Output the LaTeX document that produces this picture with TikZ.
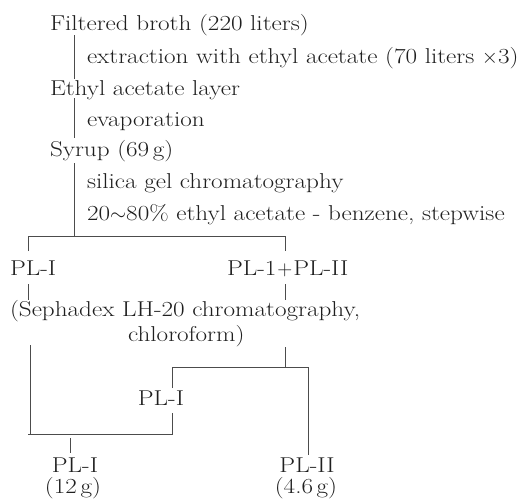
\documentclass[tikz,border=0pt]{standalone}
\usepackage{fontspec}
\setmainfont{Latin Modern Roman}[FakeStretch=1.17]
\begin{document}
\begin{tikzpicture}[x=1pt,y=-1pt,
  lbl/.style={anchor=base west,inner sep=0pt,outer sep=0pt,text=black!88,font=\fontsize{21.5}{24}\selectfont},
  clbl/.style={anchor=base,inner sep=0pt,outer sep=0pt,text=black!88,font=\fontsize{21.5}{24}\selectfont},
  conn/.style={draw=black!70,line width=0.8pt}]
\useasboundingbox (0,0) rectangle (523,499);
% texts
\node[lbl] (fb) at (50,30) {Filtered broth (220 liters)};
\node[lbl] (ex) at (87,63) {extraction with ethyl acetate (70 liters $\times$3)};
\node[lbl] (ea) at (50,95) {Ethyl acetate layer};
\node[lbl] (ev) at (87,126) {evaporation};
\node[lbl] (sy) at (50,156) {Syrup (69\,g)};
\node[lbl] (sg) at (87,188) {silica gel chromatography};
\node[lbl] (gr) at (87,220) {20$\sim$80\% ethyl acetate - benzene, stepwise};
\node[lbl] (p1) at (10,275) {PL-I};
\node[lbl] (p12) at (227,275) {PL-1\kern1pt$+$\kern1ptPL-II};
\node[lbl] (sep) at (10,316) {(Sephadex LH-20 chromatography,};
\node[lbl] (chl) at (128,341) {chloroform)};
\node[clbl] (pm) at (161,405) {PL-I};
\node[clbl] (pb) at (75,472) {PL-I};
\node[clbl] (pbg) at (73,493) {(12\,g)};
\node[clbl] (pii) at (307,472) {PL-II};
\node[clbl] (piig) at (306,493) {(4.6\,g)};
% junction coordinates
\coordinate (a1) at (74,35);  \coordinate (a2) at (74,79);
\coordinate (b1) at (74,98);  \coordinate (b2) at (74,138);
\coordinate (c1) at (74,163); \coordinate (c2) at (74,236);
\coordinate (hL) at (28,236); \coordinate (hR) at (285,236);
\coordinate (tL) at (28,251); \coordinate (tR) at (285,251);
\coordinate (uL1) at (28,284); \coordinate (uL2) at (28,300);
\coordinate (uR1) at (285,284); \coordinate (uR2) at (285,300);
\coordinate (vL1) at (30,345); \coordinate (vL2) at (30,434);
\coordinate (wL) at (28,434); \coordinate (wR) at (172,434);
\coordinate (wt1) at (70,438); \coordinate (wt2) at (70,453);
\coordinate (r1) at (285,347); \coordinate (r2) at (285,367);
\coordinate (sL) at (172,367); \coordinate (sR) at (308,367);
\coordinate (sL2) at (172,388);
\coordinate (m1) at (172,413);
\coordinate (sR2) at (308,455);
% connectors
\draw[conn] (a1) -- (a2);
\draw[conn] (b1) -- (b2);
\draw[conn] (c1) -- (c2);
\draw[conn] (tL) -- (hL) -- (hR) -- (tR);
\draw[conn] (uL1) -- (uL2);
\draw[conn] (uR1) -- (uR2);
\draw[conn] (vL1) -- (vL2);
\draw[conn] (wL) -- (wR) -- (m1);
\draw[conn] (wt1) -- (wt2);
\draw[conn] (r1) -- (r2);
\draw[conn] (sL2) -- (sL) -- (sR) -- (sR2);
\end{tikzpicture}
\end{document}
